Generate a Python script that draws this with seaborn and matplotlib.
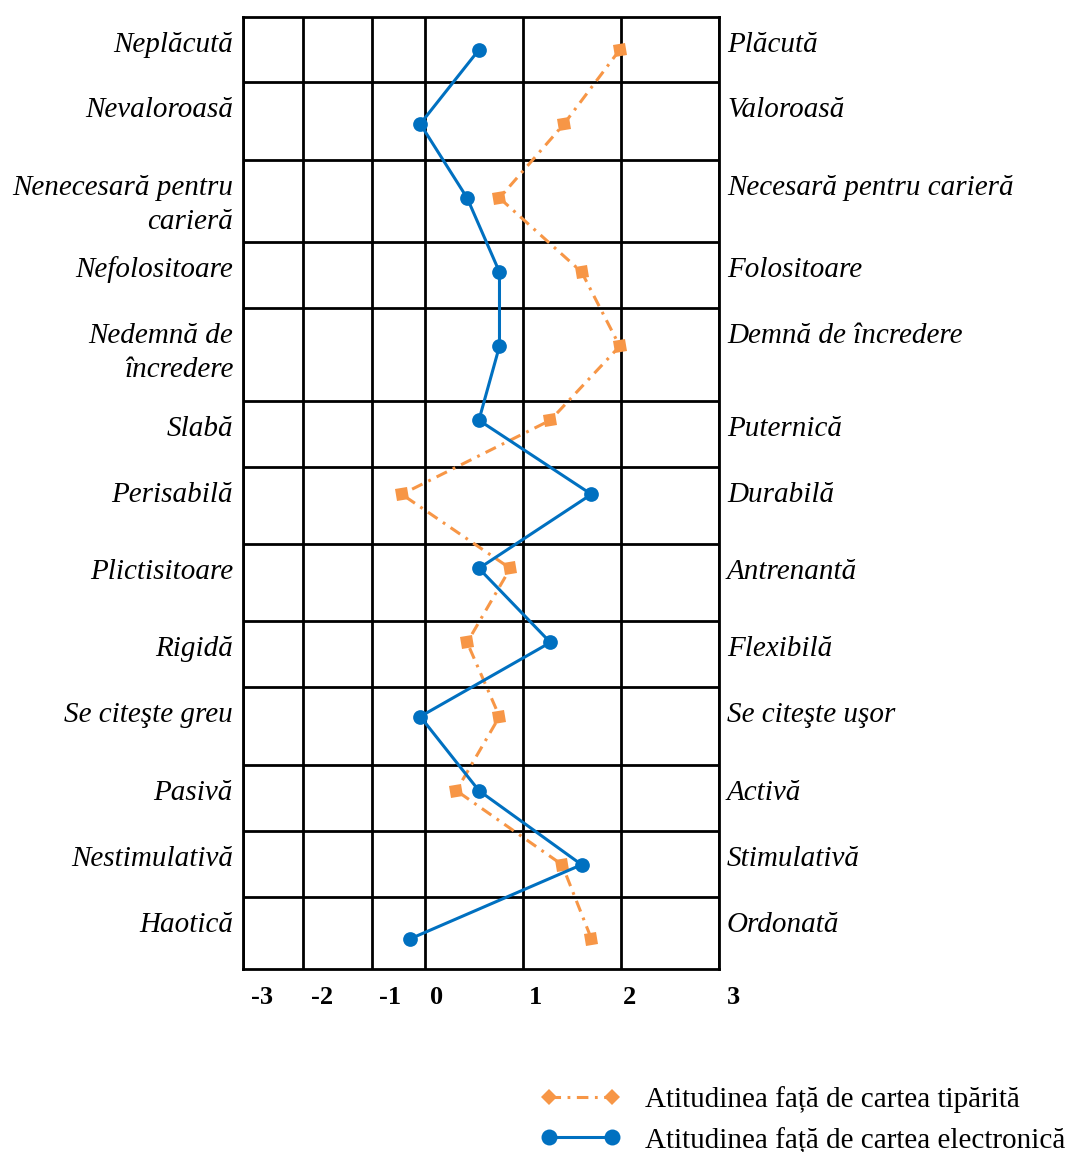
import numpy as np
import pandas as pd
import matplotlib
matplotlib.use("Agg")
import matplotlib.pyplot as plt
import seaborn as sns
from matplotlib.markers import MarkerStyle
from matplotlib.transforms import Affine2D, ScaledTranslation
from matplotlib.lines import Line2D

# ---------------- data ----------------
left_labels = ["Neplăcută", "Nevaloroasă", "Nenecesară pentru\ncarieră", "Nefolositoare",
               "Nedemnă de\nîncredere", "Slabă", "Perisabilă", "Plictisitoare", "Rigidă",
               "Se citeşte greu", "Pasivă", "Nestimulativă", "Haotică"]
right_labels = ["Plăcută", "Valoroasă", "Necesară pentru carieră", "Folositoare",
                "Demnă de încredere", "Puternică", "Durabilă", "Antrenantă", "Flexibilă",
                "Se citeşte uşor", "Activă", "Stimulativă", "Ordonată"]
printed = [1.99, 1.42, 0.76, 1.60, 1.99, 1.28, -0.44, 0.87, 0.43, 0.76, 0.32, 1.40, 1.70]
electronic = [0.55, -0.09, 0.43, 0.76, 0.76, 0.55, 1.70, 0.55, 1.28, -0.09, 0.55, 1.60, -0.28]
tick_values = [-3, -2, -1, 0, 1, 2, 3]
tick_labels = ["-3", "-2", "-1", "0", "1", "2", "3"]
series_names = ["Atitudinea față de cartea tipărită", "Atitudinea față de cartea electronică"]

# ---------------- style ----------------
sns.set_style("white")
plt.rcParams["font.family"] = ["Liberation Serif", "DejaVu Serif"]
plt.rcParams["lines.scale_dashes"] = False
plt.rcParams["text.color"] = "black"
plt.rcParams["xtick.color"] = "black"
plt.rcParams["axes.labelcolor"] = "black"

W, H = 1070, 1152
fig = plt.figure(figsize=(W / 100, H / 100), dpi=100)

ax_l, ax_r, ax_t, ax_b = 242.7, 719.3, 16.7, 969.3
ax = fig.add_axes([ax_l / W, 1 - ax_b / H, (ax_r - ax_l) / W, (ax_b - ax_t) / H])

# hand-drawn, uneven column widths of the original table
grid_px = [242.7, 303.3, 372.3, 425.0, 523.0, 620.7, 719.3]
fwd = lambda v: np.interp(v, tick_values, grid_px)
inv = lambda p: np.interp(p, grid_px, tick_values)
ax.set_xscale("function", functions=(fwd, inv))

ORANGE = "#F79646"
BLUE = "#0070C0"
pos = np.arange(len(left_labels))
DASH = (0, (8.3, 4.7, 2.0, 4.7))

sq = MarkerStyle("s", transform=Affine2D().rotate_deg(12))
sns.lineplot(x=printed, y=pos, sort=False, estimator=None, ax=ax, color=ORANGE,
             lw=2.2, linestyle=DASH, marker=sq, markersize=8.6,
             markeredgewidth=0, dash_capstyle="butt", zorder=3)
sns.lineplot(x=electronic, y=pos, sort=False, estimator=None, ax=ax, color=BLUE,
             lw=2.2, marker="o", markersize=10.6, markeredgewidth=0, zorder=4)

ax.set_xlim(-3, 3)
ax.set_ylim(12.412, -0.447)
ax.set_xlabel("")
ax.set_ylabel("")
ax.set_yticks([])
ax.set_xticks(tick_values)
ax.set_xticklabels(tick_labels, fontsize=19, fontweight="bold", color="black")
ax.tick_params(axis="x", length=0, pad=12)
label_shift_px = [19, 18.7, 17.7, 11.7, 12.3, 9.3, 14]
for lab, dx in zip(ax.get_xticklabels(), label_shift_px):
    lab.set_transform(lab.get_transform() + ScaledTranslation(dx / 100, 0, fig.dpi_scale_trans))
ax.grid(axis="x", color="black", lw=2)
ax.grid(axis="y", visible=False)
ax.set_axisbelow(True)
for s in ax.spines.values():
    s.set_color("black")
    s.set_linewidth(2)
    s.set_visible(True)

# horizontal row separators (uneven rows of the table)
row_px = [81.7, 160.0, 241.7, 308.3, 401.0, 466.7, 544.3, 621.0, 686.7, 764.7, 831.0, 896.7]
for p in row_px:
    f = (ax_b - p) / (ax_b - ax_t)
    ax.plot([0, 1], [f, f], transform=ax.transAxes, color="black", lw=2, zorder=0.5,
            solid_capstyle="butt")

# row labels
row_tops = [ax_t] + row_px
for top, ll, rl in zip(row_tops, left_labels, right_labels):
    for k, line in enumerate(ll.split("\n")):
        fig.text(233 / W, 1 - (top + 35 + 34 * k) / H, line, ha="right", va="baseline",
                 fontsize=21, style="italic", color="black")
    fig.text(727 / W, 1 - (top + 35) / H, rl, ha="left", va="baseline",
             fontsize=21, style="italic", color="black")

# legend
handles = [
    Line2D([], [], color=ORANGE, lw=2.2, linestyle=DASH,
           marker="D", markersize=8.1, markeredgewidth=0),
    Line2D([], [], color=BLUE, lw=2.2, marker="o", markersize=11.5, markeredgewidth=0),
]
fig.legend(handles, series_names, loc="upper left", bbox_to_anchor=(540 / W, 1 - 1086.5 / H),
           frameon=False, prop={"family": "Liberation Serif", "size": 21},
           numpoints=2, handlelength=2.77, handletextpad=0.83, labelspacing=0.46,
           borderpad=0, borderaxespad=0, labelcolor="black")

fig.savefig("out.png", dpi=100)
